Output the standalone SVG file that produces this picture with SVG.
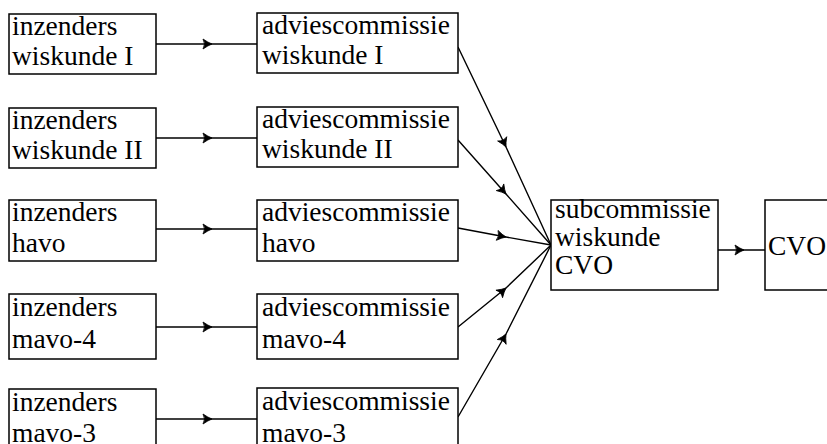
<svg xmlns="http://www.w3.org/2000/svg" width="827" height="444" viewBox="0 0 827 444">
<style>
.box{fill:#fff;stroke:#000;stroke-width:1.5}
.t{font-family:"Liberation Serif","Times New Roman",serif;font-size:27.5px;fill:#000}
.c{fill:none;stroke:#000;stroke-width:1.4;marker-mid:url(#ah)}
</style>
<defs>
<marker id="ah" markerUnits="userSpaceOnUse" markerWidth="14" markerHeight="14" viewBox="-11 -7 14 14" refX="0" refY="0" orient="auto">
<path d="M-9,-5 Q-4,-1.5 0,0 Q-4,1.5 -9,5 Q-6,0 -9,-5 Z" fill="#000" stroke="#000" stroke-width="0.8"/>
</marker>
</defs>
<rect width="827" height="444" fill="#fff"/>
<g id="connectors">
<path class="c" d="M156,44 L212,44 L257,44"/>
<path class="c" d="M156,138 L212,138 L257,138"/>
<path class="c" d="M156,229 L212,229 L257,229"/>
<path class="c" d="M156,327 L212,327 L257,327"/>
<path class="c" d="M156,419 L212,419 L257,419"/>
<path class="c" d="M458,47 L506,147 L551,245"/>
<path class="c" d="M458,140 L506,194 L551,245"/>
<path class="c" d="M458,228 L506,237 L551,245"/>
<path class="c" d="M458,327 L506,288 L551,245"/>
<path class="c" d="M458,417 L506,334 L551,245"/>
<path class="c" d="M718,250 L744,250 L765,250"/>
</g>
<g id="inz1"><rect class="box" x="9" y="14" width="147" height="60"/><text class="t" x="12" y="35">inzenders</text><text class="t" x="12" y="65">wiskunde I</text></g>
<g id="inz2"><rect class="box" x="9" y="108" width="147" height="60"/><text class="t" x="12" y="129">inzenders</text><text class="t" x="12" y="159">wiskunde II</text></g>
<g id="inz3"><rect class="box" x="9" y="200" width="147" height="61"/><text class="t" x="12" y="221">inzenders</text><text class="t" x="12" y="252">havo</text></g>
<g id="inz4"><rect class="box" x="9" y="294" width="147" height="65"/><text class="t" x="12" y="316">inzenders</text><text class="t" x="12" y="348">mavo-4</text></g>
<g id="inz5"><rect class="box" x="9" y="389" width="147" height="62"/><text class="t" x="12" y="411">inzenders</text><text class="t" x="12" y="442">mavo-3</text></g>
<g id="adv1"><rect class="box" x="257" y="13" width="201" height="60"/><text class="t" x="262" y="34">adviescommissie</text><text class="t" x="262" y="64">wiskunde I</text></g>
<g id="adv2"><rect class="box" x="257" y="107" width="201" height="60"/><text class="t" x="262" y="128">adviescommissie</text><text class="t" x="262" y="158">wiskunde II</text></g>
<g id="adv3"><rect class="box" x="257" y="200" width="201" height="61"/><text class="t" x="262" y="221">adviescommissie</text><text class="t" x="262" y="252">havo</text></g>
<g id="adv4"><rect class="box" x="257" y="294" width="201" height="65"/><text class="t" x="262" y="316">adviescommissie</text><text class="t" x="262" y="348">mavo-4</text></g>
<g id="adv5"><rect class="box" x="257" y="388" width="201" height="63"/><text class="t" x="262" y="410">adviescommissie</text><text class="t" x="262" y="442">mavo-3</text></g>
<g id="sub"><rect class="box" x="551" y="200" width="167" height="90"/><text class="t" x="555" y="218">subcommissie</text><text class="t" x="555" y="246">wiskunde</text><text class="t" x="555" y="274">CVO</text></g>
<g id="cvo"><rect class="box" x="765" y="200" width="70" height="90"/><text class="t" x="768" y="255">CVO</text></g>
</svg>
